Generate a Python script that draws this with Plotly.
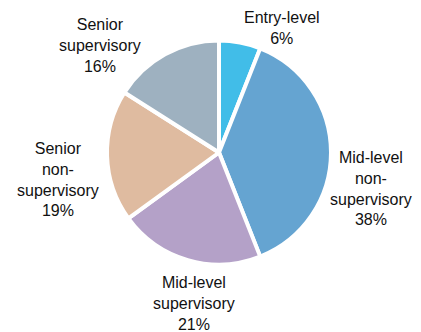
import plotly.graph_objects as go

# Share of staff by career level
levels = ["Entry-level", "Mid-level non-supervisory", "Mid-level supervisory",
          "Senior non-supervisory", "Senior supervisory"]
label_text = ["Entry-level", "Mid-level<br>non-<br>supervisory", "Mid-level<br>supervisory",
              "Senior<br>non-<br>supervisory", "Senior<br>supervisory"]
shares = [6, 38, 21, 19, 16]
colors = ["#41BDE8", "#65A4D1", "#B4A1C8", "#DFBBA0", "#9EB1C0"]

W, H = 421, 332
cx, cy, r = 219, 152.5, 112

# label block centres (pixels from top-left) for each slice
label_pos = [(282, 28), (371, 188), (194, 303), (58, 179), (100, 45)]

fig = go.Figure(go.Pie(
    labels=levels,
    values=shares,
    textinfo="none",
    sort=False,
    direction="clockwise",
    rotation=0,
    marker=dict(colors=colors, line=dict(color="white", width=4)),
    domain=dict(x=[(cx - r) / W, (cx + r) / W], y=[1 - (cy + r) / H, 1 - (cy - r) / H]),
    showlegend=False,
))

for txt, v, (px, py) in zip(label_text, shares, label_pos):
    fig.add_annotation(
        text=f"{txt}<br>{v}%",
        x=px / W, y=1 - py / H, xref="paper", yref="paper",
        xanchor="center", yanchor="middle", showarrow=False,
        font=dict(family="Liberation Sans, Arial, sans-serif", size=16, color="#111111"),
        align="center",
    )

fig.update_layout(
    width=W, height=H,
    margin=dict(l=0, r=0, t=0, b=0),
    paper_bgcolor="white",
    plot_bgcolor="white",
)

fig.write_html("out.html")
